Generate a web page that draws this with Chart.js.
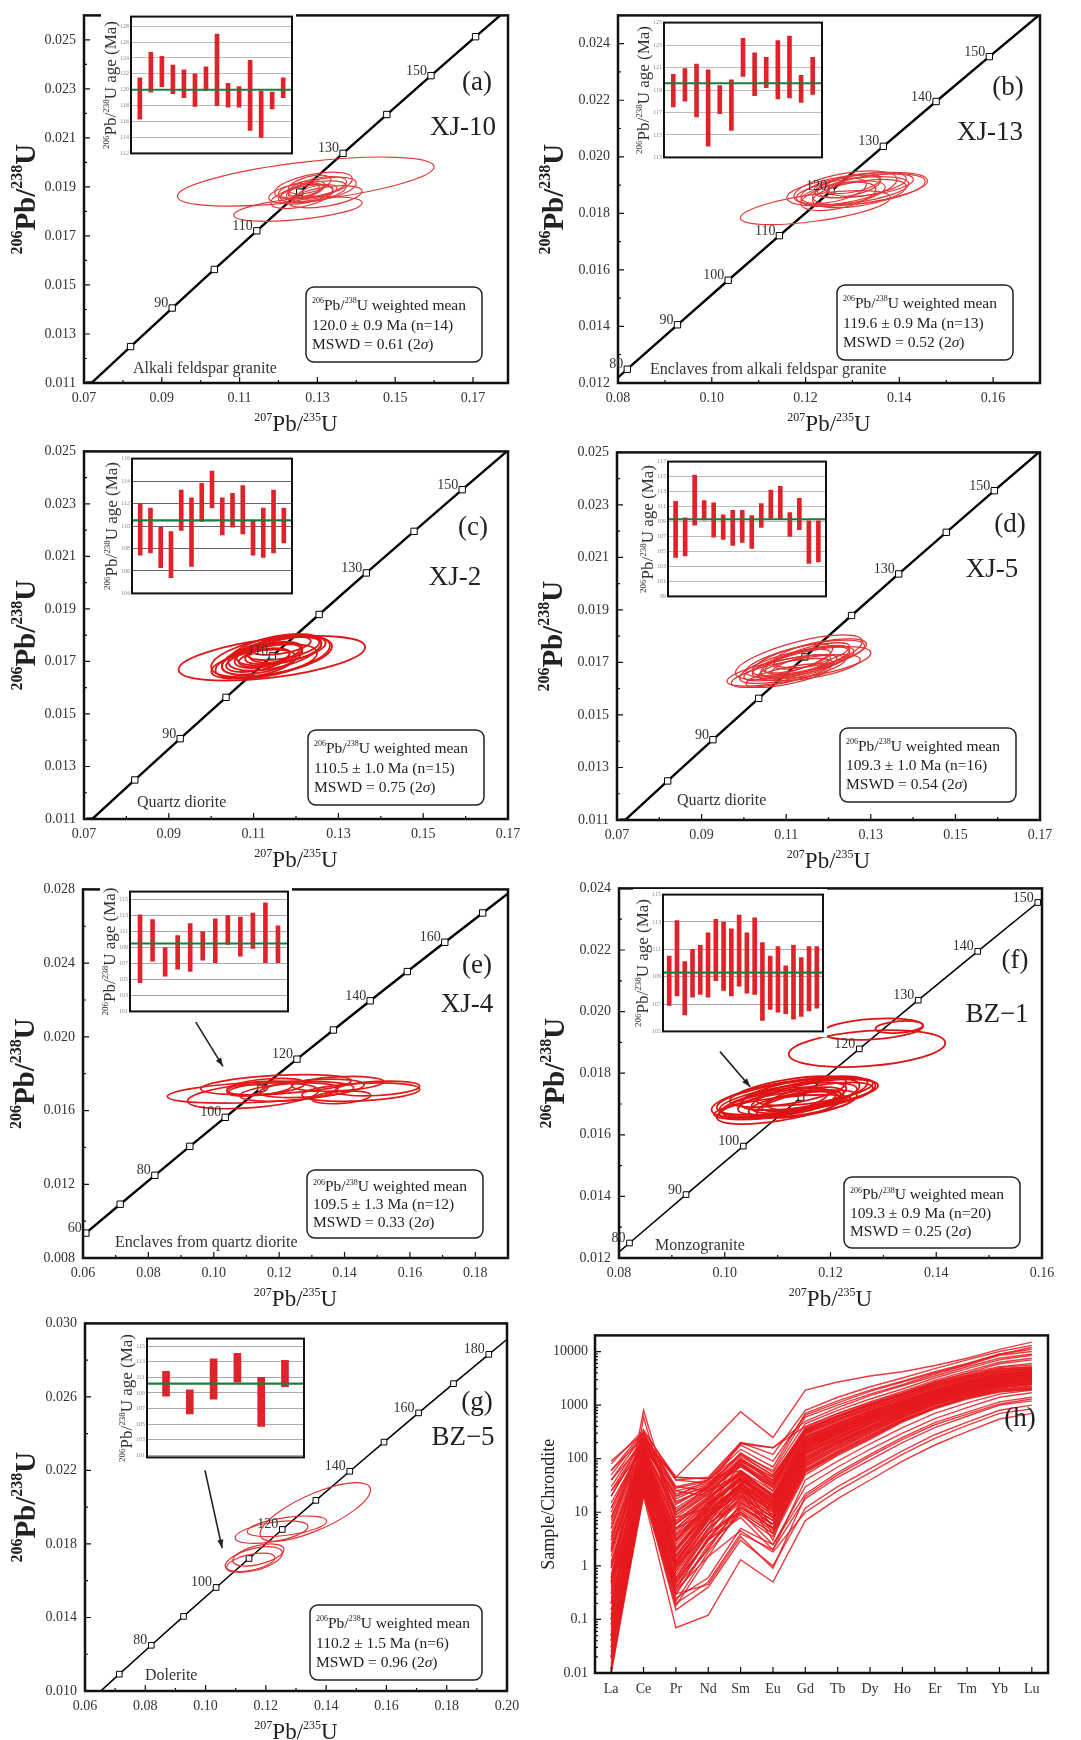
<!DOCTYPE html>
<html>
<head>
<meta charset="utf-8">
<title>Zircon U-Pb concordia and REE patterns</title>
<script src="https://cdn.jsdelivr.net/npm/chart.js@4.4.1/dist/chart.umd.min.js"></script>
<style>
  html, body { margin: 0; padding: 0; background: #fff; overflow: hidden; }
  #page { position: relative; width: 1081px; height: 1740px; overflow: hidden; background: #fff; }
  #page canvas { position: absolute; }
</style>
</head>
<body>
<div id="page"></div>
<script>
// Concordia reference points: age (Ma), 207Pb/235U, 206Pb/238U
const concAge = [50, 60, 70, 80, 90, 100, 110, 120, 130, 140, 150, 160, 170, 180, 190];
const concX = [0.05047, 0.06087, 0.07137, 0.08198, 0.09268, 0.10350, 0.11442, 0.12545, 0.13659, 0.14784, 0.15920, 0.17067, 0.18226, 0.19396, 0.20577];
const concY = [0.007786, 0.009351, 0.010918, 0.012487, 0.014059, 0.015633, 0.017210, 0.018789, 0.020371, 0.021955, 0.023542, 0.025131, 0.026722, 0.028316, 0.029912];

// Axis tick labels
const xTicks07 = [0.07, 0.09, 0.11, 0.13, 0.15, 0.17];
const xTicks08 = [0.08, 0.10, 0.12, 0.14, 0.16];
const xTicks06 = [0.06, 0.08, 0.10, 0.12, 0.14, 0.16, 0.18];
const xTicks06w = [0.06, 0.08, 0.10, 0.12, 0.14, 0.16, 0.18, 0.20];
const yTicks011 = [0.011, 0.013, 0.015, 0.017, 0.019, 0.021, 0.023, 0.025];
const yTicks012 = [0.012, 0.014, 0.016, 0.018, 0.020, 0.022, 0.024];
const yTicks008 = [0.008, 0.012, 0.016, 0.020, 0.024, 0.028];
const yTicks010 = [0.010, 0.014, 0.018, 0.022, 0.026, 0.030];

// Inset age axis ticks
const ageTicksA = [112, 114, 116, 118, 120, 122, 124, 126, 128];
const ageTicksB = [113, 115, 117, 119, 121, 123, 125];
const ageTicksC = [104, 106, 108, 110, 112, 114, 116];
const ageTicksD = [99, 101, 103, 105, 107, 109, 111, 113, 115, 117];
const ageTicksE = [101, 103, 105, 107, 109, 111, 113, 115];
const ageTicksF = [105, 107, 109, 111, 113, 115];
const ageTicksG = [101, 103, 105, 107, 109, 111, 113, 115];

// Error ellipses: [207Pb/235U, 206Pb/238U, half-width x, half-width y, rho]
const ellA = [
  [0.1270, 0.01922, 0.0330, 0.00100, 0.6], [0.1250, 0.01810, 0.0165, 0.00050, 0.5],
  [0.1290, 0.01880, 0.0085, 0.00045, 0.5], [0.1270, 0.01870, 0.0070, 0.00040, 0.5],
  [0.1310, 0.01890, 0.0090, 0.00050, 0.5], [0.1260, 0.01890, 0.0060, 0.00035, 0.5],
  [0.1300, 0.01900, 0.0075, 0.00042, 0.5], [0.1240, 0.01875, 0.0065, 0.00040, 0.5],
  [0.1320, 0.01860, 0.0095, 0.00045, 0.5], [0.1280, 0.01910, 0.0055, 0.00038, 0.5],
  [0.1260, 0.01860, 0.0080, 0.00048, 0.5], [0.1300, 0.01880, 0.0050, 0.00030, 0.5],
  [0.1290, 0.01905, 0.0100, 0.00055, 0.5], [0.1270, 0.01885, 0.0045, 0.00030, 0.5]
];
const ellB = [
  [0.1221, 0.01820, 0.0160, 0.00060, 0.6], [0.1310, 0.01885, 0.0150, 0.00060, 0.5],
  [0.1300, 0.01880, 0.0120, 0.00050, 0.5], [0.1280, 0.01870, 0.0090, 0.00045, 0.5],
  [0.1320, 0.01900, 0.0095, 0.00045, 0.5], [0.1290, 0.01895, 0.0070, 0.00040, 0.5],
  [0.1270, 0.01860, 0.0080, 0.00050, 0.5], [0.1335, 0.01885, 0.0120, 0.00055, 0.5],
  [0.1300, 0.01905, 0.0060, 0.00035, 0.5], [0.1260, 0.01880, 0.0070, 0.00045, 0.5],
  [0.1315, 0.01870, 0.0100, 0.00050, 0.5], [0.1285, 0.01890, 0.0110, 0.00060, 0.5],
  [0.1340, 0.01900, 0.0090, 0.00040, 0.5]
];
const ellC = [
  [0.1143, 0.01712, 0.0220, 0.00085, 0.5], [0.1140, 0.01720, 0.0140, 0.00080, 0.5],
  [0.1130, 0.01700, 0.0120, 0.00065, 0.5], [0.1150, 0.01735, 0.0110, 0.00070, 0.5],
  [0.1120, 0.01710, 0.0095, 0.00060, 0.5], [0.1160, 0.01740, 0.0100, 0.00055, 0.5],
  [0.1135, 0.01725, 0.0080, 0.00050, 0.5], [0.1170, 0.01750, 0.0085, 0.00045, 0.5],
  [0.1110, 0.01705, 0.0075, 0.00045, 0.5], [0.1145, 0.01730, 0.0065, 0.00040, 0.5],
  [0.1180, 0.01745, 0.0090, 0.00050, 0.5], [0.1125, 0.01715, 0.0060, 0.00035, 0.5],
  [0.1155, 0.01720, 0.0130, 0.00075, 0.5], [0.1165, 0.01760, 0.0070, 0.00035, 0.5],
  [0.1100, 0.01690, 0.0100, 0.00055, 0.5]
];
const ellD = [
  [0.1130, 0.01720, 0.0150, 0.00085, 0.7], [0.1120, 0.01690, 0.0130, 0.00070, 0.7],
  [0.1140, 0.01700, 0.0120, 0.00060, 0.7], [0.1100, 0.01670, 0.0140, 0.00060, 0.7],
  [0.1150, 0.01710, 0.0100, 0.00055, 0.7], [0.1110, 0.01680, 0.0110, 0.00050, 0.7],
  [0.1160, 0.01725, 0.0090, 0.00050, 0.7], [0.1090, 0.01660, 0.0120, 0.00055, 0.7],
  [0.1170, 0.01700, 0.0130, 0.00060, 0.6], [0.1125, 0.01705, 0.0080, 0.00045, 0.7],
  [0.1180, 0.01735, 0.0110, 0.00055, 0.6], [0.1105, 0.01650, 0.0100, 0.00045, 0.7],
  [0.1145, 0.01715, 0.0140, 0.00070, 0.7], [0.1135, 0.01690, 0.0070, 0.00040, 0.7],
  [0.1155, 0.01680, 0.0120, 0.00050, 0.6], [0.1115, 0.01710, 0.0095, 0.00060, 0.7]
];
const ellE = [
  [0.1143, 0.01700, 0.0285, 0.00060, 0.4], [0.1120, 0.01680, 0.0200, 0.00070, 0.4],
  [0.1190, 0.01740, 0.0230, 0.00055, 0.4], [0.1160, 0.01730, 0.0120, 0.00045, 0.4],
  [0.1105, 0.01710, 0.0060, 0.00030, 0.4], [0.1140, 0.01720, 0.0100, 0.00040, 0.4],
  [0.1230, 0.01700, 0.0150, 0.00050, 0.4], [0.1300, 0.01720, 0.0160, 0.00050, 0.4],
  [0.1450, 0.01700, 0.0180, 0.00050, 0.3], [0.1390, 0.01672, 0.0090, 0.00035, 0.3],
  [0.1500, 0.01720, 0.0130, 0.00040, 0.3], [0.1380, 0.01745, 0.0140, 0.00040, 0.3]
];
const ellF = [
  [0.1135, 0.01725, 0.0150, 0.00060, 0.6], [0.1120, 0.01715, 0.0130, 0.00055, 0.6],
  [0.1100, 0.01700, 0.0110, 0.00050, 0.6], [0.1150, 0.01735, 0.0120, 0.00055, 0.6],
  [0.1110, 0.01690, 0.0130, 0.00040, 0.6], [0.1140, 0.01720, 0.0090, 0.00050, 0.6],
  [0.1125, 0.01710, 0.0100, 0.00045, 0.6], [0.1160, 0.01730, 0.0130, 0.00050, 0.6],
  [0.1095, 0.01705, 0.0100, 0.00050, 0.6], [0.1130, 0.01700, 0.0085, 0.00040, 0.6],
  [0.1170, 0.01740, 0.0110, 0.00045, 0.6], [0.1115, 0.01720, 0.0140, 0.00065, 0.6],
  [0.1145, 0.01710, 0.0075, 0.00035, 0.6], [0.1105, 0.01690, 0.0120, 0.00055, 0.6],
  [0.1180, 0.01725, 0.0100, 0.00045, 0.6], [0.1120, 0.01740, 0.0110, 0.00050, 0.6],
  [0.1155, 0.01700, 0.0095, 0.00045, 0.6], [0.1269, 0.01880, 0.0148, 0.00060, 0.3],
  [0.1280, 0.01943, 0.0095, 0.00035, 0.3], [0.1330, 0.01950, 0.0045, 0.00020, 0.3]
];
const ellG = [
  [0.1364, 0.01974, 0.0183, 0.00160, 0.75], [0.1219, 0.01864, 0.0121, 0.00061, 0.5],
  [0.1270, 0.01896, 0.0132, 0.00056, 0.5], [0.1160, 0.01715, 0.0095, 0.00070, 0.5],
  [0.1150, 0.01700, 0.0080, 0.00050, 0.5], [0.1175, 0.01740, 0.0085, 0.00060, 0.5]
];

// Inset spot ages (Ma): [low, high] of each error bar, plus weighted mean
const barsA = [[116.3, 121.5], [119.7, 124.7], [120.4, 124.2], [119.5, 123.1], [119.0, 122.5], [117.9, 122.0], [119.9, 122.9],
  [118.0, 127.0], [117.8, 120.8], [117.8, 120.4], [114.9, 123.7], [114.0, 119.8], [117.6, 119.7], [119.0, 121.5]];
const barsB = [[117.5, 120.4], [118.0, 120.9], [116.6, 121.3], [114.0, 120.8], [116.9, 119.4], [115.4, 119.9], [120.2, 123.6],
  [118.5, 122.3], [119.2, 121.9], [118.2, 123.4], [118.3, 123.8], [117.9, 120.3], [118.6, 121.9]];
const barsC = [[107.4, 112.0], [107.6, 111.6], [106.3, 109.9], [105.4, 109.5], [109.6, 113.2], [106.4, 112.5], [110.4, 113.8],
  [111.6, 114.9], [109.2, 112.5], [109.9, 112.9], [109.3, 113.6], [107.4, 110.5], [107.2, 111.6], [107.6, 113.2], [108.5, 111.6]];
const barsD = [[104.2, 111.7], [104.4, 109.5], [108.5, 115.2], [109.2, 111.8], [106.9, 111.5], [106.6, 109.9], [105.8, 110.5],
  [106.2, 110.5], [105.4, 109.8], [108.2, 111.4], [109.4, 113.2], [109.3, 113.7], [107.0, 110.2], [107.9, 112.1], [103.4, 109.1], [103.6, 109.1]];
const barsE = [[104.6, 113.1], [107.3, 112.5], [105.4, 109.0], [106.3, 110.5], [106.0, 112.0], [107.4, 111.0], [107.1, 112.6],
  [109.4, 113.0], [107.9, 112.8], [108.9, 113.3], [107.1, 114.6], [107.1, 111.7]];
const barsF = [[106.9, 110.5], [107.6, 113.1], [106.2, 110.1], [107.5, 111.0], [107.7, 111.3], [107.5, 112.2], [108.7, 113.2],
  [108.0, 113.0], [107.6, 112.5], [108.3, 113.5], [107.8, 112.2], [107.7, 113.3], [105.8, 111.5], [106.6, 110.5], [106.4, 111.2],
  [106.3, 109.8], [105.9, 111.3], [106.1, 110.4], [106.5, 111.2], [106.7, 111.2]];
const barsG = [[108.6, 111.8], [106.3, 109.4], [108.2, 113.4], [110.4, 114.1], [104.7, 111.0], [109.8, 113.2]];
const meanAges = [120.0, 119.6, 110.5, 109.3, 109.5, 109.3, 110.2];

// Chondrite-normalised REE of the zircon spots
const reeLabels = ['La', 'Ce', 'Pr', 'Nd', 'Sm', 'Eu', 'Gd', 'Tb', 'Dy', 'Ho', 'Er', 'Tm', 'Yb', 'Lu'];
const reeTicks = [0.01, 0.1, 1, 10, 100, 1000, 10000];
const reeSpots = [
  [0.03, 30, 0.5, 4, 12, 5, 60, 130, 260, 520, 900, 1400, 1900, 2100],
  [0.05, 45, 0.8, 6, 18, 7, 80, 170, 330, 620, 1050, 1600, 2200, 2500],
  [0.1, 60, 1.2, 8, 22, 9, 100, 200, 380, 700, 1200, 1800, 2500, 2800],
  [0.02, 25, 0.4, 3, 10, 4, 55, 120, 240, 500, 880, 1350, 1800, 2000],
  [0.5, 80, 2.5, 12, 30, 12, 130, 250, 460, 800, 1350, 2000, 2800, 3200],
  [1.2, 100, 4, 15, 40, 15, 160, 300, 540, 900, 1500, 2200, 3100, 3500],
  [2, 120, 6, 18, 50, 20, 200, 360, 640, 1050, 1700, 2500, 3400, 3900],
  [0.2, 70, 1.5, 9, 25, 10, 110, 220, 410, 740, 1250, 1900, 2600, 3000],
  [0.08, 50, 1, 7, 20, 8, 90, 190, 360, 680, 1150, 1750, 2400, 2700],
  [5, 150, 10, 25, 70, 30, 250, 440, 760, 1200, 1950, 2800, 3800, 4300],
  [10, 200, 15, 30, 90, 40, 300, 550, 900, 1400, 2300, 3200, 4300, 4700],
  [0.3, 90, 2, 10, 35, 14, 150, 290, 520, 880, 1450, 2150, 3000, 3400],
  [0.01, 22, 0.3, 2.5, 9, 3.5, 50, 115, 230, 480, 850, 1300, 1750, 1950],
  [0.04, 35, 0.6, 5, 15, 6, 70, 150, 300, 580, 1000, 1500, 2100, 2400],
  [3, 130, 7, 20, 55, 22, 220, 400, 700, 1100, 1800, 2600, 3600, 4100],
  [20, 250, 25, 35, 110, 50, 330, 620, 1000, 1550, 2500, 3500, 4700, 5000],
  [0.7, 75, 3, 11, 28, 11, 120, 240, 450, 780, 1300, 1950, 2700, 3100],
  [0.15, 40, 0.9, 6, 16, 6, 75, 160, 310, 600, 1050, 1550, 2150, 2450],
  [1.5, 110, 5, 16, 45, 18, 180, 330, 590, 980, 1600, 2350, 3250, 3700],
  [7, 170, 12, 28, 80, 35, 280, 500, 840, 1300, 2100, 3000, 4000, 4500],
  [0.06, 55, 1.1, 8, 24, 9, 95, 200, 370, 690, 1180, 1780, 2450, 2750],
  [0.25, 65, 1.8, 10, 32, 13, 140, 270, 490, 840, 1400, 2100, 2900, 3300],
  [0.9, 95, 3.5, 14, 38, 16, 170, 320, 570, 950, 1550, 2300, 3150, 3600],
  [0.012, 28, 0.35, 3.5, 11, 4.5, 58, 125, 250, 510, 890, 1380, 1850, 2050],
  [4, 140, 8, 22, 60, 25, 230, 420, 730, 1150, 1850, 2700, 3700, 4200],
  [12, 220, 18, 32, 100, 45, 320, 590, 960, 1500, 2400, 3400, 4500, 4800],
  [0.4, 85, 2.2, 11, 33, 12, 145, 280, 500, 860, 1420, 2120, 2950, 3350],
  [2.5, 125, 6.5, 19, 52, 21, 210, 380, 670, 1080, 1750, 2550, 3500, 4000],
  [50, 300, 30, 40, 150, 70, 700, 1200, 1900, 2800, 4200, 6000, 9000, 11000],
  [80, 350, 40, 45, 200, 120, 800, 1400, 2200, 3200, 4800, 7000, 10000, 13000],
  [30, 250, 45, 180, 750, 250, 1900, 2700, 3500, 4200, 5500, 7500, 11000, 15000],
  [20, 200, 20, 40, 120, 60, 600, 1000, 1600, 2400, 3800, 5600, 8500, 10000],
  [40, 280, 28, 38, 180, 90, 650, 1100, 1800, 2700, 4000, 5800, 8800, 12000],
  [15, 180, 20, 30, 130, 55, 450, 800, 1300, 2000, 3200, 4800, 7000, 8500],
  [60, 320, 45, 42, 190, 160, 500, 900, 1500, 2300, 3500, 5200, 7500, 9000],
  [0.015, 20, 0.07, 0.12, 1.3, 0.5, 7, 18, 40, 90, 180, 320, 550, 700],
  [0.02, 25, 0.15, 0.4, 3, 1, 12, 30, 65, 140, 280, 480, 800, 1000],
  [0.03, 30, 0.2, 0.5, 4, 2, 18, 45, 95, 200, 380, 620, 1000, 1200],
  [0.05, 40, 0.3, 0.45, 3.5, 0.9, 20, 50, 110, 230, 430, 680, 1050, 1300],
  [0.04, 35, 0.25, 0.6, 5, 2.5, 22, 55, 120, 250, 470, 740, 1150, 1400],
  [0.02, 22, 0.18, 1.5, 4.5, 1.8, 10, 25, 55, 120, 240, 420, 700, 850],
  [0.5, 800, 8, 12, 40, 18, 200, 380, 660, 1050, 1700, 2500, 3400, 3800],
  [0.1, 600, 5, 10, 35, 15, 180, 340, 600, 980, 1600, 2350, 3200, 3600],
  [40, 200, 45, 42, 60, 20, 180, 340, 600, 980, 1600, 2300, 3200, 3600],
  [60, 250, 40, 35, 80, 25, 250, 450, 780, 1200, 1900, 2800, 3800, 4200],
  [25, 150, 30, 25, 50, 18, 200, 380, 650, 1050, 1700, 2500, 3400, 3800],
  [90, 300, 25, 20, 100, 40, 350, 620, 1000, 1550, 2400, 3500, 4800, 5200],
  [0.01, 30, 0.35, 1.5, 12, 6, 80, 170, 330, 620, 1050, 1600, 2200, 2500],
  [0.02, 40, 0.4, 2, 15, 7, 90, 190, 360, 660, 1120, 1700, 2350, 2650],
  [0.05, 60, 0.5, 3, 20, 8, 110, 220, 410, 740, 1250, 1900, 2600, 3000],
  [0.03, 50, 0.6, 4, 25, 11, 130, 250, 460, 800, 1350, 2050, 2800, 3200],
  [0.08, 80, 0.8, 5, 30, 12, 160, 300, 540, 900, 1500, 2250, 3100, 3500],
  [0.12, 100, 1, 6, 45, 15, 200, 370, 650, 1050, 1700, 2500, 3400, 3900],
  [0.2, 120, 1.5, 8, 60, 20, 250, 450, 780, 1200, 1950, 2850, 3850, 4300],
  [0.3, 150, 2, 12, 80, 30, 300, 540, 900, 1400, 2200, 3200, 4300, 4800],
  [0.6, 180, 3, 15, 100, 35, 350, 620, 1000, 1550, 2450, 3500, 4700, 5100],
  [0.5, 60, 2, 10, 30, 4, 150, 290, 520, 880, 1450, 2150, 3000, 3400],
  [1, 80, 3, 14, 40, 5, 180, 330, 580, 960, 1570, 2300, 3200, 3600],
  [0.2, 45, 1.2, 8, 25, 3, 120, 240, 440, 770, 1300, 1950, 2700, 3100],
  [2, 100, 5, 18, 55, 8, 220, 400, 700, 1120, 1800, 2650, 3600, 4000],
  [5, 300, 10, 30, 200, 160, 400, 700, 1100, 1700, 2700, 3900, 5200, 6000],
  [0.1, 50, 1, 4, 10, 2.5, 30, 70, 150, 300, 560, 900, 1400, 1700],
  [0.05, 35, 0.5, 3, 8, 2, 40, 90, 190, 380, 700, 1100, 1600, 1900],
  [8, 230, 14, 30, 90, 45, 380, 700, 1150, 1800, 2900, 4300, 6300, 7500],
  [3, 160, 9, 24, 75, 32, 330, 620, 1050, 1650, 2700, 4000, 5900, 7000],
  [0.07, 42, 0.7, 5, 17, 7, 85, 180, 340, 640, 1100, 1650, 2300, 2600],
  [0.35, 75, 2, 9, 28, 11, 125, 245, 455, 790, 1320, 1980, 2750, 3150],
  [1.8, 115, 4.5, 15, 42, 17, 175, 325, 580, 960, 1580, 2320, 3200, 3650],
  [0.018, 32, 0.45, 3.2, 13, 5, 65, 140, 280, 550, 950, 1450, 2000, 2250],
  [6, 160, 11, 26, 75, 28, 265, 470, 800, 1250, 2000, 2900, 3900, 4400],
  [0.9, 105, 2.8, 13, 42, 14, 190, 350, 620, 1000, 1650, 2420, 3300, 3750],
  [0.15, 68, 1.3, 7, 27, 10, 120, 235, 440, 770, 1290, 1940, 2680, 3050],
  [3.5, 135, 6, 17, 58, 19, 240, 430, 740, 1160, 1870, 2720, 3700, 4150],
  [0.04, 48, 0.55, 4.5, 19, 8, 100, 205, 385, 705, 1200, 1820, 2500, 2850],
  [0.6, 88, 1.6, 9, 34, 13, 155, 295, 530, 890, 1470, 2180, 3020, 3450],
  [12, 190, 16, 28, 95, 38, 310, 560, 920, 1420, 2280, 3250, 4350, 4800],
  [0.1, 58, 0.9, 6, 21, 8, 105, 210, 395, 715, 1210, 1830, 2520, 2870],
  [0.025, 38, 0.3, 2.2, 14, 5, 72, 155, 305, 590, 1020, 1540, 2150, 2450],
  [2.2, 128, 3.8, 12, 48, 16, 215, 390, 680, 1090, 1760, 2580, 3520, 4000],
  [0.45, 92, 1.1, 7.5, 36, 12, 165, 310, 555, 930, 1530, 2260, 3120, 3550],
  [8, 175, 9, 22, 85, 33, 290, 520, 860, 1340, 2150, 3100, 4150, 4650],
  [0.013, 26, 0.22, 1.8, 10, 4, 62, 135, 270, 530, 920, 1420, 1950, 2200],
  [25, 230, 22, 33, 120, 48, 360, 650, 1050, 1620, 2600, 3700, 5000, 5600],
  [0.2, 62, 1.4, 8.5, 29, 10, 135, 262, 478, 825, 1380, 2070, 2880, 3280],
  [1.1, 98, 3.2, 12.5, 44, 15, 185, 345, 610, 1000, 1640, 2400, 3280, 3720]
];

const FONT = '"Liberation Serif", "Times New Roman", serif';
const pbX = [['207', 1], ['Pb/'], ['235', 1], ['U']];
const pbY = [['206', 1], ['Pb/'], ['238', 1], ['U']];
const pbAge = [['206', 1], ['Pb/'], ['238', 1], ['U age (Ma)']];

// create an absolutely placed canvas on the page
function makeCanvas(left, top, w, h) {
  const c = document.createElement('canvas');
  c.width = w;
  c.height = h;
  c.style.left = left + 'px';
  c.style.top = top + 'px';
  c.style.width = w + 'px';
  c.style.height = h + 'px';
  document.getElementById('page').appendChild(c);
  return c;
}

const fixTicks = vals => scale => { scale.ticks = vals.map(v => ({ value: v })); };
const halfSteps = (major, max) => major.map(v => v + (major[1] - major[0]) / 2).filter(v => v < max - 1e-9);

// text with superscripts / italics: parts = [[text, sup, italic], ...]
function drawRich(ctx, parts, x, y, size, align, weight, supRatio) {
  const sup = Math.round(size * (supRatio || 0.52));
  const w0 = weight ? weight + ' ' : '';
  const fontOf = pt => (pt[2] ? 'italic ' : '') + w0 + (pt[1] ? sup : size) + 'px ' + FONT;
  let w = 0;
  parts.forEach(pt => { ctx.font = fontOf(pt); w += ctx.measureText(pt[0]).width; });
  let cx = align === 'center' ? x - w / 2 : align === 'right' ? x - w : x;
  ctx.textAlign = 'left';
  ctx.textBaseline = 'alphabetic';
  parts.forEach(pt => {
    ctx.font = fontOf(pt);
    ctx.fillText(pt[0], cx, pt[1] ? y - size * 0.42 : y);
    cx += ctx.measureText(pt[0]).width;
  });
}

// ellipses, frame, inward ticks, titles and labels of one panel
function panelDecor(p) {
  return {
    id: 'panelDecor',
    afterDatasetsDraw(chart) {
      if (!p.ell) return;
      const { ctx, chartArea: a, scales: { x, y } } = chart;
      ctx.save();
      ctx.beginPath();
      ctx.rect(a.left, a.top, a.right - a.left, a.bottom - a.top);
      ctx.clip();
      ctx.strokeStyle = p.ellColor;
      ctx.lineWidth = p.ellWidth;
      p.ell.forEach(([cx, cy, sx, sy, rho]) => {
        const px = x.getPixelForValue(cx), py = y.getPixelForValue(cy);
        const ax = x.getPixelForValue(cx + sx) - px;
        const ay = y.getPixelForValue(cy + sy) - py;
        ctx.save();
        ctx.translate(px, py);
        ctx.transform(ax, rho * ay, 0, Math.sqrt(1 - rho * rho) * ay, 0, 0);
        ctx.beginPath();
        ctx.arc(0, 0, 1, 0, Math.PI * 2);
        ctx.restore();
        ctx.stroke();
      });
      ctx.restore();
    },
    afterDraw(chart) {
      const { ctx, chartArea: a, scales: { x, y } } = chart;
      const xMajor = p.xMajor || p.xt;
      const xMinor = p.xMinor || halfSteps(p.xt, p.xr[1]);
      const yMinor = p.yMinor || halfSteps(p.yt, p.yr[1]);
      ctx.save();
      ctx.strokeStyle = '#111';
      ctx.lineWidth = 1.2;
      ctx.beginPath();
      const tx = (v, len) => { const px = x.getPixelForValue(v); ctx.moveTo(px, a.bottom); ctx.lineTo(px, a.bottom - len); };
      const ty = (v, len) => { const py = y.getPixelForValue(v); ctx.moveTo(a.left, py); ctx.lineTo(a.left + len, py); };
      xMajor.forEach(v => tx(v, 6));
      xMinor.forEach(v => tx(v, 3));
      p.yt.forEach(v => ty(v, 6));
      yMinor.forEach(v => ty(v, 3));
      ctx.stroke();
      ctx.lineWidth = 2.5;
      ctx.strokeRect(a.left, a.top, a.right - a.left, a.bottom - a.top);

      ctx.fillStyle = '#222';
      if (p.xTitle) drawRich(ctx, p.xTitle, (a.left + a.right) / 2, a.bottom + 48, 23, 'center');
      ctx.save();
      ctx.translate(a.left - p.yTitleDx + p.yTitleSize * 0.33, (a.top + a.bottom) / 2);
      ctx.rotate(-Math.PI / 2);
      drawRich(ctx, p.yTitle, 0, 0, p.yTitleSize, 'center', p.yTitleWeight, 0.55);
      ctx.restore();

      // concordia age labels
      ctx.font = '14px ' + FONT;
      ctx.textAlign = 'right';
      ctx.textBaseline = 'alphabetic';
      ctx.fillStyle = '#333';
      (p.ages || []).forEach(age => {
        const i = concAge.indexOf(age);
        ctx.fillText(String(age), x.getPixelForValue(concX[i]) - 4, y.getPixelForValue(concY[i]) - 1);
      });

      ctx.fillStyle = '#222';
      ctx.textAlign = 'center';
      ctx.textBaseline = 'middle';
      ctx.font = '27px ' + FONT;
      ctx.fillText(p.tag, a.right - p.tagPos[0], a.top + p.tagPos[1]);
      if (p.id) ctx.fillText(p.id, a.right - p.idPos[0], a.top + p.idPos[1]);

      if (p.meanBox) {
        const [dl, dt, w, h] = p.meanBox;
        const bx = a.right - dl, by = a.bottom - dt, r = 8;
        ctx.beginPath();
        ctx.moveTo(bx + r, by);
        ctx.arcTo(bx + w, by, bx + w, by + h, r);
        ctx.arcTo(bx + w, by + h, bx, by + h, r);
        ctx.arcTo(bx, by + h, bx, by, r);
        ctx.arcTo(bx, by, bx + w, by, r);
        ctx.closePath();
        ctx.fillStyle = '#fff';
        ctx.fill();
        ctx.lineWidth = 1.5;
        ctx.strokeStyle = '#222';
        ctx.stroke();
        ctx.fillStyle = '#222';
        const lines = [
          [['206', 1], ['Pb/'], ['238', 1], ['U weighted mean']],
          [[p.meanText]],
          [['MSWD = ' + p.mswd + ' (2'], ['σ', 0, 1], [')']]
        ];
        lines.forEach((ln, k) => drawRich(ctx, ln, bx + 6, by + h * (0.24 + 0.26 * k) + 5, 15.5, 'left'));
      }

      if (p.rock) {
        ctx.font = '16px ' + FONT;
        ctx.textAlign = 'left';
        ctx.textBaseline = 'middle';
        ctx.fillStyle = '#333';
        ctx.fillText(p.rock, a.left + p.rockPos[0], a.bottom - p.rockPos[1]);
      }

      if (p.arrow) {
        const [x1, y1, x2, y2] = p.arrow;
        const X1 = x.getPixelForValue(x1), Y1 = y.getPixelForValue(y1);
        const X2 = x.getPixelForValue(x2), Y2 = y.getPixelForValue(y2);
        const ang = Math.atan2(Y2 - Y1, X2 - X1);
        ctx.strokeStyle = '#222';
        ctx.fillStyle = '#222';
        ctx.lineWidth = 1.6;
        ctx.beginPath();
        ctx.moveTo(X1, Y1);
        ctx.lineTo(X2, Y2);
        ctx.stroke();
        ctx.beginPath();
        ctx.moveTo(X2, Y2);
        ctx.lineTo(X2 - 9 * Math.cos(ang - 0.35), Y2 - 9 * Math.sin(ang - 0.35));
        ctx.lineTo(X2 - 9 * Math.cos(ang + 0.35), Y2 - 9 * Math.sin(ang + 0.35));
        ctx.closePath();
        ctx.fill();
      }
      ctx.restore();
    }
  };
}

const tickFont = { family: FONT, size: 14 };

function baseOptions(xScale, yScale) {
  return {
    responsive: false,
    animation: false,
    devicePixelRatio: 1,
    events: [],
    layout: { padding: { left: 0, top: 8, right: 20, bottom: 0 } },
    scales: { x: xScale, y: yScale },
    plugins: { legend: { display: false }, tooltip: { enabled: false } }
  };
}

// one concordia panel
function concordiaPanel(p) {
  const [L, T, R, B] = p.box;
  const cv = makeCanvas(L - 82, T - 8, R - L + 102, B - T + 62);
  const xScale = {
    type: 'linear', min: p.xr[0], max: p.xr[1], afterBuildTicks: fixTicks(p.xt),
    afterFit: s => { s.height = 54; },
    grid: { display: false, drawTicks: false }, border: { display: false },
    ticks: { padding: 7, color: '#333', font: tickFont, autoSkip: false, maxRotation: 0, callback: v => v.toFixed(2) }
  };
  const yScale = {
    type: 'linear', min: p.yr[0], max: p.yr[1], afterBuildTicks: fixTicks(p.yt),
    afterFit: s => { s.width = 82; },
    grid: { display: false, drawTicks: false }, border: { display: false },
    ticks: { padding: 8, color: '#333', font: tickFont, autoSkip: false, callback: v => v.toFixed(3) }
  };
  new Chart(cv, {
    type: 'line',
    data: {
      datasets: [{
        data: concAge.map((a, i) => ({ x: concX[i], y: concY[i] })),
        borderColor: '#000', borderWidth: p.curve, tension: 0, clip: 0,
        pointStyle: 'rect', pointRadius: p.mark, pointBackgroundColor: '#fff',
        pointBorderColor: '#000', pointBorderWidth: 1
      }]
    },
    options: baseOptions(xScale, yScale),
    plugins: [panelDecor(Object.assign({ xTitle: pbX, yTitle: pbY, yTitleSize: 29, yTitleWeight: 'bold' }, p))]
  });
}

// small weighted-mean inset
function insetPanel(p) {
  const [L, T, R, B] = p.box;
  const n = p.bars.length;
  const cv = makeCanvas(L - 30, T - 4, R - L + 34, B - T + 8);
  new Chart(cv, {
    type: 'bar',
    data: {
      datasets: [
        { type: 'line', data: [{ x: 0, y: p.mean }, { x: n + 1, y: p.mean }], borderColor: '#1b7d3c', borderWidth: 2.2, pointRadius: 0, order: 0 },
        { type: 'bar', data: p.bars.map((b, i) => ({ x: i + 1, y: b })), backgroundColor: '#e0232a', barThickness: p.thick, order: 1 }
      ]
    },
    options: {
      responsive: false, animation: false, devicePixelRatio: 1, events: [],
      layout: { padding: { left: 0, top: 4, right: 4, bottom: 4 } },
      scales: {
        x: { type: 'linear', min: 0.2, max: n + 0.8, display: false, offset: false },
        y: {
          min: p.yr[0], max: p.yr[1], afterBuildTicks: fixTicks(p.yt), afterFit: s => { s.width = 30; },
          grid: { color: p.grid, drawTicks: false }, border: { display: false },
          ticks: { padding: 2, color: '#888', font: { family: FONT, size: 6 } }
        }
      },
      plugins: { legend: { display: false }, tooltip: { enabled: false } }
    },
    plugins: [{
      id: 'insetDecor',
      beforeDraw(chart) {
        const c = chart.ctx;
        c.save();
        c.fillStyle = '#fff';
        c.fillRect(0, 0, chart.width, chart.height);
        c.restore();
      },
      afterDraw(chart) {
        const { ctx, chartArea: a } = chart;
        ctx.save();
        ctx.strokeStyle = '#111';
        ctx.lineWidth = 2;
        ctx.strokeRect(a.left, a.top, a.right - a.left, a.bottom - a.top);
        ctx.fillStyle = '#333';
        ctx.translate(15, (a.top + a.bottom) / 2);
        ctx.rotate(-Math.PI / 2);
        drawRich(ctx, pbAge, 0, 0, 17, 'center');
        ctx.restore();
      }
    }]
  });
}

// REE spider diagram (h)
function reePanel() {
  const L = 595, T = 1328, R = 1048, B = 1673;
  const cv = makeCanvas(L - 82, T - 8, R - L + 102, B - T + 62);
  const yMinor = [];
  reeTicks.forEach(d => { for (let k = 2; k <= 9; k++) if (d * k < 20000) yMinor.push(d * k); });
  const xScale = {
    type: 'category', offset: true, afterFit: s => { s.height = 54; },
    grid: { display: false, drawTicks: false }, border: { display: false },
    ticks: { padding: 8, color: '#333', font: { family: FONT, size: 14 }, autoSkip: false, maxRotation: 0 }
  };
  const yScale = {
    type: 'logarithmic', min: 0.01, max: 20000, afterBuildTicks: fixTicks(reeTicks),
    afterFit: s => { s.width = 82; },
    grid: { display: false, drawTicks: false }, border: { display: false },
    ticks: { padding: 7, color: '#333', font: { family: FONT, size: 14 }, autoSkip: false, callback: v => String(v) }
  };
  new Chart(cv, {
    type: 'line',
    data: {
      labels: reeLabels,
      datasets: reeSpots.map(v => ({ data: v, borderColor: 'rgba(230,26,30,0.85)', borderWidth: 1.4, pointRadius: 0, tension: 0 }))
    },
    options: baseOptions(xScale, yScale),
    plugins: [panelDecor({
      xt: reeLabels.map((l, i) => i), xMajor: reeLabels.map((l, i) => i), xMinor: [],
      yt: reeTicks, yMinor: yMinor, yr: [0.01, 20000], xr: [0, 13],
      yTitle: [['Sample/Chrondite']], yTitleSize: 18, yTitleDx: 47,
      tag: '(h)', tagPos: [28, 84]
    })]
  });
}

concordiaPanel({ box: [84, 7, 508, 383], xr: [0.07, 0.179], yr: [0.011, 0.026], xt: xTicks07, yt: yTicks011,
  ell: ellA, ellColor: 'rgb(226,58,58)', ellWidth: 1.2, curve: 2.4, mark: 4.5, ages: [90, 110, 130, 150],
  tag: '(a)', tagPos: [31, 68], id: 'XJ-10', idPos: [45, 113], rock: 'Alkali feldspar granite', rockPos: [49, 14],
  yTitleDx: 59, meanBox: [202, 96, 176, 75], meanText: meanAges[0].toFixed(1) + ' ± 0.9 Ma (n=14)', mswd: '0.61' });
concordiaPanel({ box: [618, 7, 1040, 383], xr: [0.08, 0.170], yr: [0.012, 0.025], xt: xTicks08, yt: yTicks012,
  ell: ellB, ellColor: 'rgb(226,58,58)', ellWidth: 1.2, curve: 2.4, mark: 4.5, ages: [80, 90, 100, 110, 120, 130, 140, 150],
  tag: '(b)', tagPos: [32, 73], id: 'XJ-13', idPos: [50, 118], rock: 'Enclaves from alkali feldspar granite', rockPos: [32, 13],
  yTitleDx: 65, meanBox: [203, 98, 176, 75], meanText: meanAges[1].toFixed(1) + ' ± 0.9 Ma (n=13)', mswd: '0.52' });
concordiaPanel({ box: [84, 443, 508, 819], xr: [0.07, 0.17], yr: [0.011, 0.025], xt: xTicks07, yt: yTicks011,
  ell: ellC, ellColor: 'rgb(222,22,22)', ellWidth: 1.8, curve: 2.4, mark: 4.5, ages: [90, 110, 130, 150],
  tag: '(c)', tagPos: [35, 77], id: 'XJ-2', idPos: [53, 127], rock: 'Quartz diorite', rockPos: [53, 16],
  yTitleDx: 59, meanBox: [200, 89, 176, 75], meanText: meanAges[2].toFixed(1) + ' ± 1.0 Ma (n=15)', mswd: '0.75' });
concordiaPanel({ box: [617, 444, 1040, 820], xr: [0.07, 0.17], yr: [0.011, 0.025], xt: xTicks07, yt: yTicks011,
  ell: ellD, ellColor: 'rgb(226,50,50)', ellWidth: 1.3, curve: 2.4, mark: 4.5, ages: [90, 130, 150],
  tag: '(d)', tagPos: [30, 73], id: 'XJ-5', idPos: [48, 118], rock: 'Quartz diorite', rockPos: [60, 19],
  yTitleDx: 65, meanBox: [200, 92, 176, 74], meanText: meanAges[3].toFixed(1) + ' ± 1.0 Ma (n=16)', mswd: '0.54' });
concordiaPanel({ box: [83, 881, 508, 1258], xr: [0.06, 0.19], yr: [0.008, 0.028], xt: xTicks06, yt: yTicks008,
  ell: ellE, ellColor: 'rgb(224,25,25)', ellWidth: 1.7, curve: 2.4, mark: 4.5, ages: [60, 80, 100, 120, 140, 160],
  tag: '(e)', tagPos: [31, 77], id: 'XJ-4', idPos: [41, 116], rock: 'Enclaves from quartz diorite', rockPos: [32, 15],
  yTitleDx: 59, meanBox: [201, 88, 176, 68], meanText: meanAges[4].toFixed(1) + ' ± 1.3 Ma (n=12)', mswd: '0.33',
  arrow: [0.0945, 0.0208, 0.1028, 0.0184] });
concordiaPanel({ box: [619, 880, 1042, 1258], xr: [0.08, 0.16], yr: [0.012, 0.024], xt: xTicks08, yt: yTicks012,
  ell: ellF, ellColor: 'rgb(222,20,20)', ellWidth: 1.8, curve: 1.5, mark: 4, ages: [80, 90, 100, 120, 130, 140, 150],
  tag: '(f)', tagPos: [27, 73], id: 'BZ−1', idPos: [45, 127], rock: 'Monzogranite', rockPos: [36, 12],
  yTitleDx: 65, meanBox: [198, 81, 176, 71], meanText: meanAges[5].toFixed(1) + ' ± 0.9 Ma (n=20)', mswd: '0.25',
  arrow: [0.0991, 0.0187, 0.1048, 0.01756] });
concordiaPanel({ box: [85, 1315, 507, 1691], xr: [0.06, 0.20], yr: [0.010, 0.030], xt: xTicks06w, yt: yTicks010,
  ell: ellG, ellColor: 'rgb(228,50,50)', ellWidth: 1.2, curve: 1.5, mark: 4, ages: [80, 100, 120, 140, 160, 180],
  tag: '(g)', tagPos: [30, 80], id: 'BZ−5', idPos: [44, 115], rock: 'Dolerite', rockPos: [60, 15],
  yTitleDx: 60, meanBox: [197, 86, 172, 75], meanText: meanAges[6].toFixed(1) + ' ± 1.5 Ma (n=6)', mswd: '0.96',
  arrow: [0.0998, 0.0220, 0.1055, 0.01777] });
reePanel();

insetPanel({ box: [131, 15, 292, 155], bars: barsA, mean: meanAges[0], yr: [112, 129.2], yt: ageTicksA, grid: '#bbb', thick: 4 });
insetPanel({ box: [664, 21, 822, 159], bars: barsB, mean: meanAges[1], yr: [113, 125], yt: ageTicksB, grid: '#bbb', thick: 4 });
insetPanel({ box: [132, 457, 292, 595], bars: barsC, mean: meanAges[2], yr: [104, 116], yt: ageTicksC, grid: '#666', thick: 4 });
insetPanel({ box: [668, 460, 826, 598], bars: barsD, mean: meanAges[3], yr: [99, 117], yt: ageTicksD, grid: '#bbb', thick: 4 });
insetPanel({ box: [130, 890, 288, 1013], bars: barsE, mean: meanAges[4], yr: [101, 116], yt: ageTicksE, grid: '#aaa', thick: 4 });
insetPanel({ box: [663, 893, 823, 1033], bars: barsF, mean: meanAges[5], yr: [105, 115], yt: ageTicksF, grid: '#aaa', thick: 4 });
insetPanel({ box: [147, 1337, 304, 1459], bars: barsG, mean: meanAges[6], yr: [100.7, 116], yt: ageTicksG, grid: '#aaa', thick: 7 });
</script>
</body>
</html>
